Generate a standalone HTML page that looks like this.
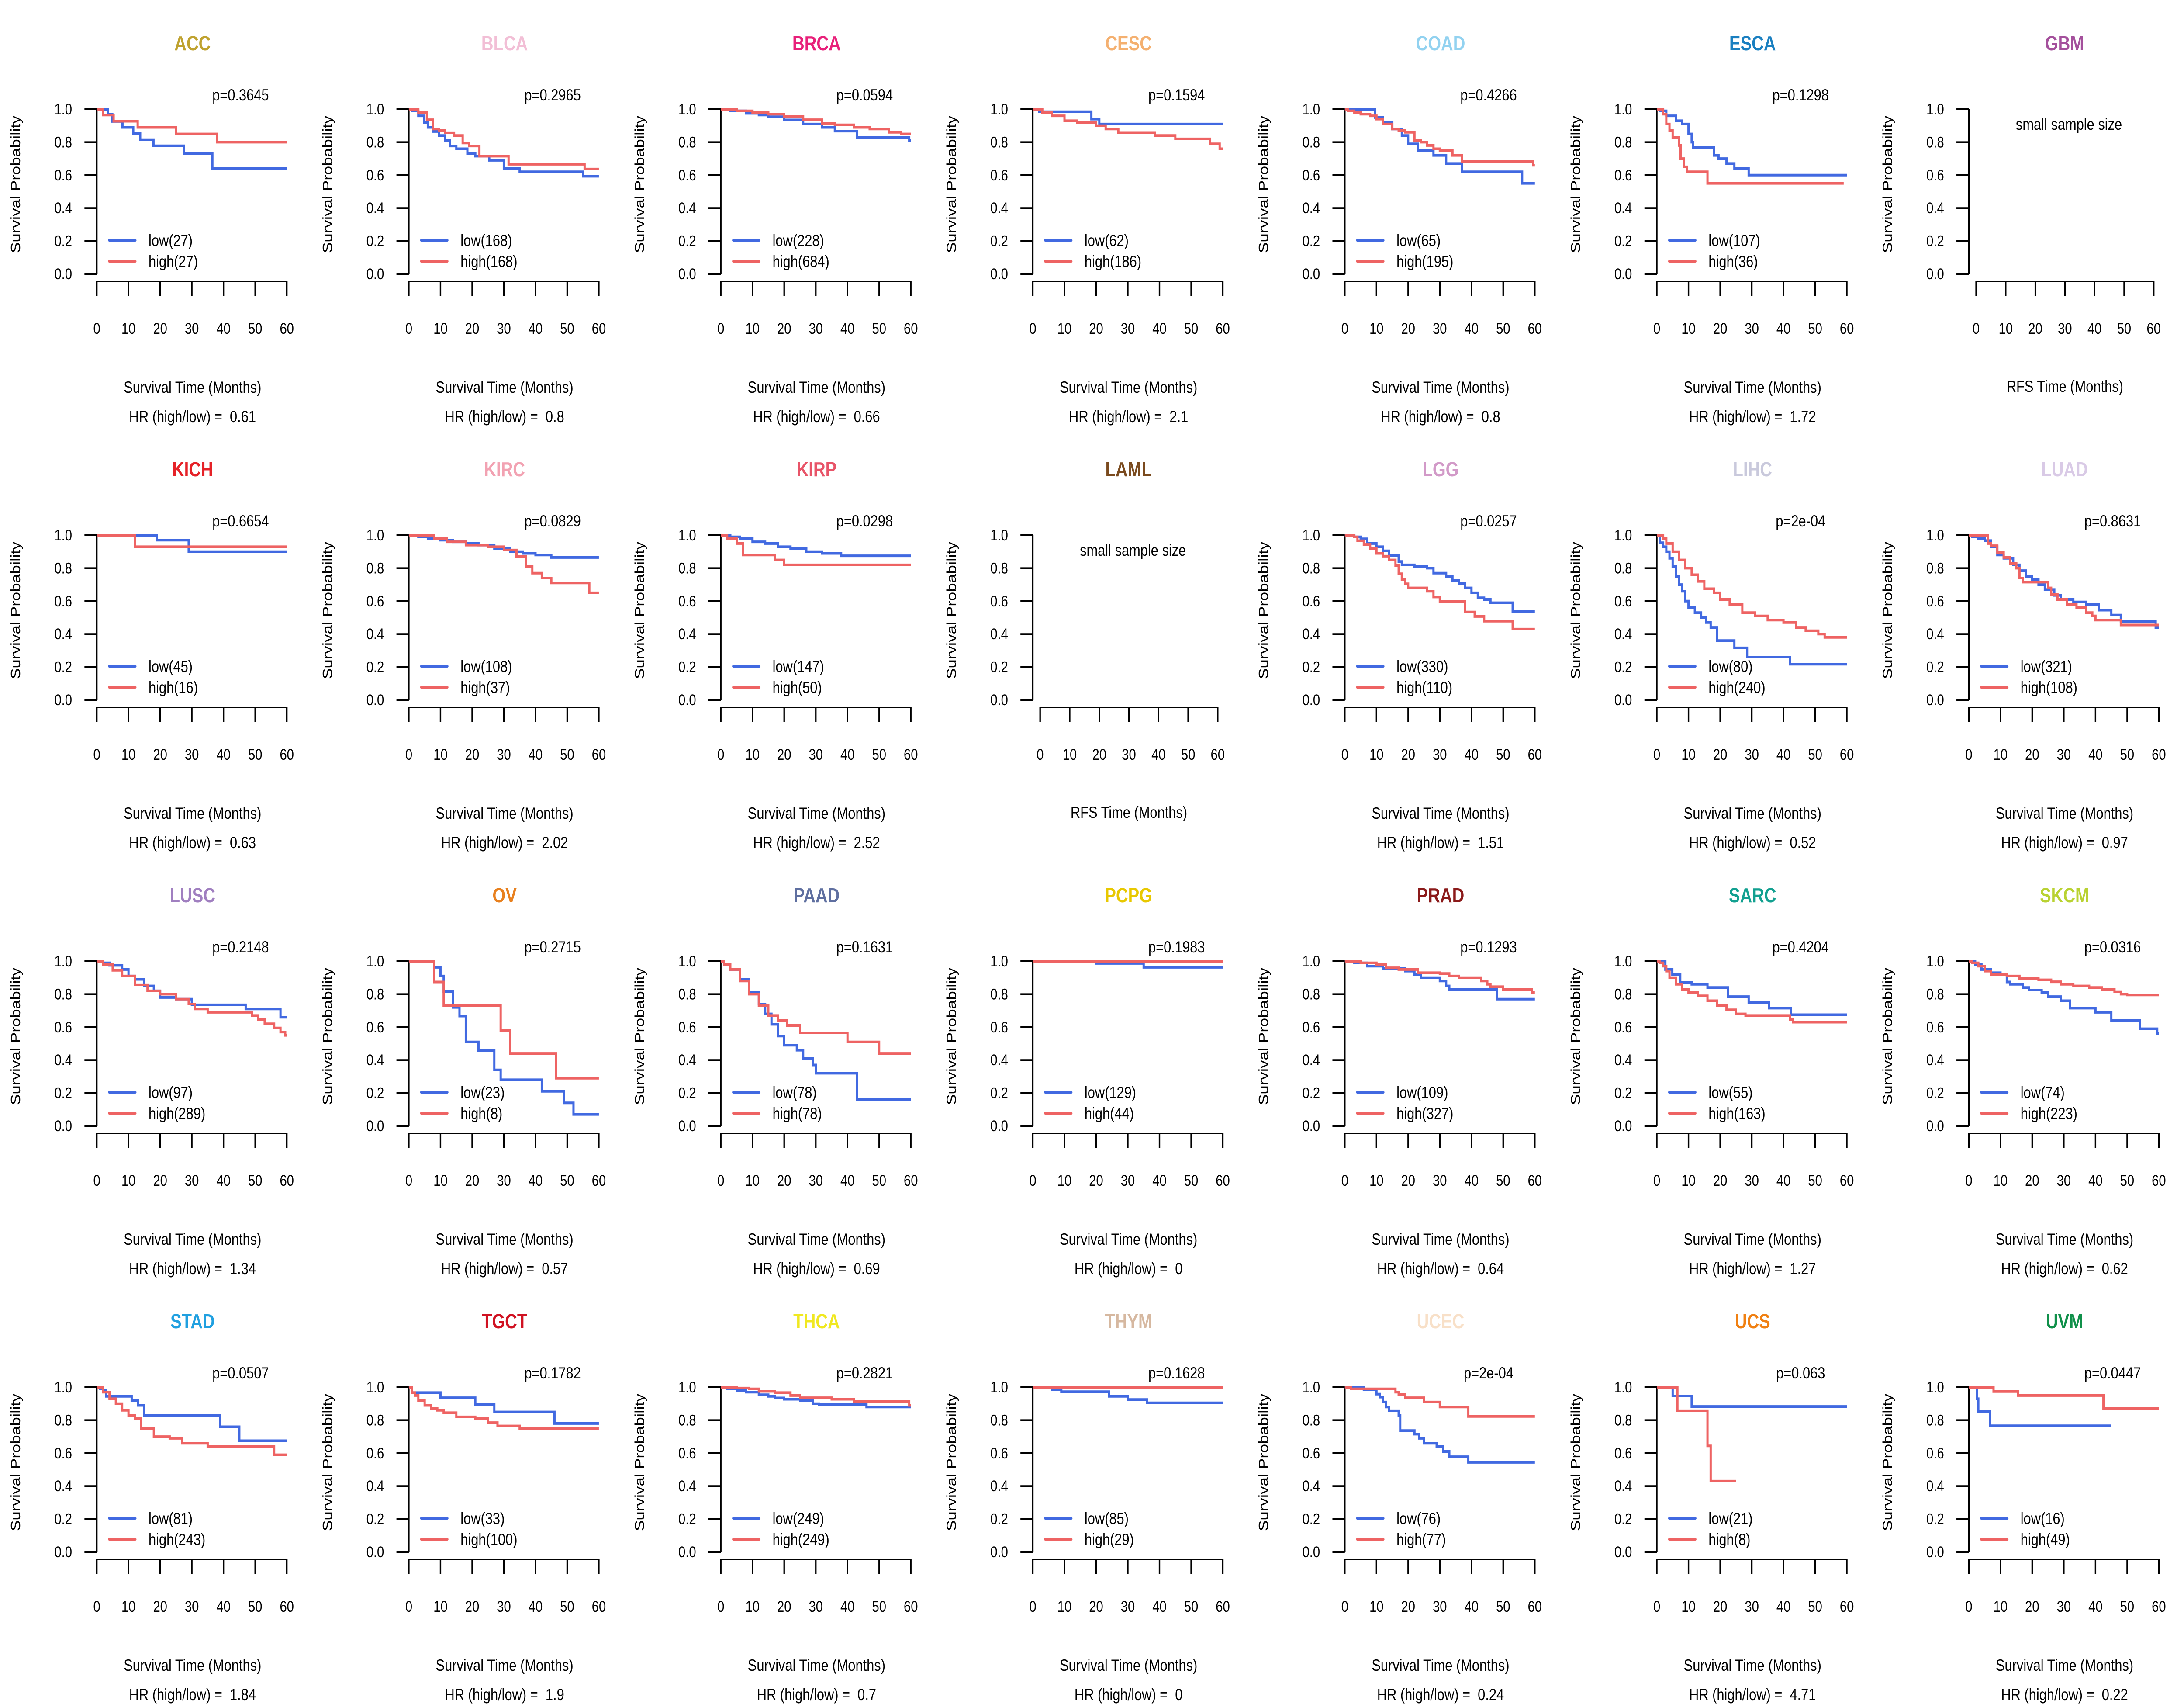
<!DOCTYPE html>
<html><head><meta charset="utf-8"><title>Survival curves</title>
<style>
html,body{margin:0;padding:0;background:#fff;width:100%;height:100%;overflow:hidden;}
svg{display:block;position:absolute;left:0;top:0;width:100vw;height:100vh;font-family:"Liberation Sans",Arial,sans-serif;}
</style></head>
<body>
<svg id="chart" viewBox="0 0 6000 3900" preserveAspectRatio="none" xmlns="http://www.w3.org/2000/svg"></svg>
<script>
const cancers = ["ACC","BLCA","BRCA","CESC","COAD","ESCA","GBM","KICH","KIRC","KIRP","LAML","LGG","LIHC","LUAD","LUSC","OV","PAAD","PCPG","PRAD","SARC","SKCM","STAD","TGCT","THCA","THYM","UCEC","UCS","UVM"];
const titleColors = ["#BFA22F","#F2BFD6","#E8207A","#F4B070","#92D2F0","#1A7FC0","#A4509C","#E52228","#F2A2B2","#E85468","#7A4A1E","#D29AC8","#C9C9DC","#D9CAE6","#A07FC0","#E8801E","#5F6FA0","#E8C800","#8B1A1A","#12A090","#B9D232","#20A0E0","#D01222","#F0E820","#D6B8A0","#F8E0C8","#F08012","#10904A"];
const pValues = ["0.3645","0.2965","0.0594","0.1594","0.4266","0.1298",null,"0.6654","0.0829","0.0298",null,"0.0257","2e-04","0.8631","0.2148","0.2715","0.1631","0.1983","0.1293","0.4204","0.0316","0.0507","0.1782","0.2821","0.1628","2e-04","0.063","0.0447"];
const hrValues = ["0.61","0.8","0.66","2.1","0.8","1.72",null,"0.63","2.02","2.52",null,"1.51","0.52","0.97","1.34","0.57","0.69","0","0.64","1.27","0.62","1.84","1.9","0.7","0","0.24","4.71","0.22"];
const lowN = [27,168,228,62,65,107,null,45,108,147,null,330,80,321,97,23,78,129,109,55,74,81,33,249,85,76,21,16];
const highN = [27,168,684,186,195,36,null,16,37,50,null,110,240,108,289,8,78,44,327,163,223,243,100,249,29,77,8,49];
const lowEnd = [60,60,60,60,60,60,null,60,60,60,null,60,60,60,60,60,60,60,60,60,60,60,60,60,60,60,60,45];
const highEnd = [60,60,60,60,60,59,null,60,60,60,null,60,60,60,60,60,60,60,60,60,60,60,60,60,60,60,25,60];
const lowTimes = [
[3.5,4.9,8.1,11.5,13.7,17.9,27.5,36.5],
[1,3,4.8,6,7.6,9.5,11.5,13,15,18.5,21,25.4,30,35,55],
[3,8,12,15,20,26,32,36,43,59.5],
[2,18.5,21],
[9.5,12,15,18,20,23,28,32,37,56],
[1,3,6,8,10,11,11.5,18,19.5,22,24.5,29],
null,
[19,29],
[3,6,10,14,18,22,27,32,36,40,45],
[3,6,10,14,18,22,27,32,38],
null,
[3,5,7,10,12,14,17,18,22,26,28,32,34,36,38,40,42,44,46,53],
[1,2,3,4,5,6,7,8,9,10,12,14,15.5,17,19,24.5,28.5,42],
[1,3,5,7,9,11,14,16,18,20,22,24,27,29,33,37,41,45,48,59],
[2,4,8,10,12,15,18,20,25,30,47,58],
[8,10,11,14,16,18,22,27,29,42,49,52],
[1,3,6,9,12,14,16,18,20,24,26,29,30,43],
[20,35],
[3,7,12,19,22,24,30,32,33,48],
[2.7,4.9,7.4,11,16,22.5,29,35.4,42.4],
[2,4,7,10,12,13,17,19,23,25,29,32,40,45,54,59.5],
[1,2,3,11,13,15,39,45],
[1,10,21,27,46],
[2,5,8,12,15,17,20,25,29,31,46],
[6,9,24,30,36],
[6,10,11,12,13,14,17,17.5,22,23.5,25,29,31,33,39],
[5,11],
[2.5,3,6.7]
];
const lowSurv = [
[0.97,0.926,0.89,0.854,0.815,0.778,0.73,0.64],
[0.99,0.96,0.92,0.89,0.865,0.84,0.81,0.777,0.76,0.73,0.715,0.69,0.64,0.62,0.593],
[0.99,0.975,0.965,0.954,0.935,0.91,0.89,0.867,0.83,0.81],
[0.985,0.94,0.91],
[0.95,0.92,0.88,0.84,0.79,0.75,0.72,0.67,0.62,0.55],
[0.99,0.96,0.93,0.91,0.85,0.8,0.768,0.72,0.70,0.67,0.64,0.60],
null,
[0.97,0.90],
[0.99,0.98,0.97,0.96,0.95,0.94,0.92,0.9,0.89,0.88,0.865],
[0.99,0.98,0.96,0.95,0.93,0.92,0.90,0.89,0.875],
null,
[0.99,0.978,0.95,0.93,0.905,0.876,0.84,0.82,0.81,0.80,0.77,0.75,0.725,0.707,0.68,0.65,0.62,0.61,0.59,0.537],
[0.954,0.93,0.90,0.86,0.81,0.75,0.70,0.66,0.60,0.56,0.53,0.50,0.47,0.44,0.36,0.316,0.26,0.217],
[0.99,0.98,0.967,0.93,0.88,0.86,0.82,0.785,0.75,0.73,0.70,0.67,0.635,0.61,0.595,0.58,0.545,0.515,0.475,0.44],
[0.99,0.975,0.95,0.91,0.89,0.85,0.82,0.78,0.77,0.735,0.71,0.66],
[0.963,0.91,0.817,0.72,0.667,0.51,0.458,0.34,0.28,0.21,0.14,0.07],
[0.98,0.95,0.89,0.81,0.74,0.68,0.617,0.546,0.49,0.46,0.41,0.37,0.32,0.16],
[0.987,0.963],
[0.99,0.97,0.955,0.94,0.92,0.90,0.88,0.85,0.83,0.77],
[0.95,0.92,0.87,0.86,0.84,0.785,0.75,0.715,0.675],
[0.98,0.95,0.93,0.92,0.874,0.86,0.84,0.825,0.81,0.785,0.76,0.715,0.69,0.64,0.59,0.56],
[0.99,0.98,0.945,0.92,0.89,0.83,0.76,0.675],
[0.967,0.936,0.896,0.85,0.78],
[0.99,0.98,0.97,0.954,0.945,0.935,0.927,0.92,0.9,0.894,0.88],
[0.985,0.973,0.945,0.925,0.905],
[0.985,0.958,0.94,0.91,0.88,0.857,0.83,0.737,0.715,0.69,0.66,0.64,0.61,0.578,0.544],
[0.947,0.883],
[0.93,0.852,0.766]
];
const highTimes = [
[2,5.3,12.9,25,38],
[3,5.7,7.6,9.5,11.5,14.3,17,19,22.3,31.5,55.5],
[5,10,15,20,26,32,36,42,47,53,57],
[3,6,10,14,20,23,27,38.5,45,56,59],
[1,3,5,8,10,12,15,17,19,22,24,26,28,30,34,37,59.5],
[2,3,4,5,7,7.5,8.5,9.5,16],
null,
[12],
[8,12,18,25,30,34,37,39,42,45,57],
[2,5,7,17,20],
null,
[3,4,6,8,10,12,14,16,17,18,19,20,26,28,30,38,41,44,53],
[2,3,5,7,9,11,13,15,18,20,23,27,31,35,40,44,47,51,53],
[6,7,9,11,13,15,16,17,25,26,28,31,34,37,39,40,48],
[2,5,8,12,16,20,25,29,31,35,49,51,53,56,58,59.5],
[8,11,29,32,46.5],
[1,3,6,9,12,15,18,21,25,40,50],
[],
[5,10,13,17,23,30,33,36,43,45,46,50,59],
[1,2,3,4,6,8,10,13,16,19,22,25,28,42,43],
[1,3,5,7,12,16,22,26,29,33,38,42,46,48,50],
[2,4,6,8,10,12,14,18,23,27,35,56],
[1,2,3,5,7,9,11,15,21,25,28,35],
[5,9,12,17,22,25,35,42,59.5],
[],
[2,16,17,19,25,30,39],
[6.5,16,17],
[7.8,15.5,42.5]
];
const highSurv = [
[0.965,0.927,0.89,0.85,0.80],
[0.98,0.936,0.88,0.87,0.857,0.84,0.795,0.777,0.715,0.666,0.637],
[0.99,0.98,0.97,0.955,0.936,0.914,0.905,0.89,0.88,0.86,0.85],
[0.98,0.96,0.93,0.92,0.90,0.88,0.858,0.84,0.82,0.79,0.76],
[0.99,0.98,0.97,0.96,0.94,0.91,0.88,0.87,0.86,0.81,0.80,0.78,0.76,0.75,0.72,0.684,0.66],
[0.97,0.91,0.87,0.83,0.78,0.70,0.65,0.62,0.55],
null,
[0.93],
[0.98,0.96,0.94,0.93,0.91,0.87,0.81,0.77,0.74,0.71,0.65],
[0.98,0.95,0.88,0.85,0.82],
null,
[0.99,0.966,0.944,0.92,0.89,0.873,0.85,0.817,0.766,0.73,0.705,0.68,0.66,0.625,0.597,0.534,0.507,0.478,0.43],
[0.98,0.95,0.9,0.85,0.8,0.76,0.72,0.675,0.65,0.61,0.58,0.53,0.51,0.485,0.47,0.44,0.42,0.40,0.38],
[0.95,0.936,0.896,0.865,0.83,0.80,0.74,0.715,0.68,0.64,0.61,0.58,0.56,0.53,0.51,0.485,0.455],
[0.98,0.945,0.91,0.857,0.82,0.80,0.77,0.74,0.71,0.69,0.67,0.645,0.62,0.595,0.57,0.55],
[0.874,0.73,0.58,0.44,0.29],
[0.98,0.95,0.88,0.80,0.73,0.67,0.64,0.61,0.565,0.51,0.44],
[],
[0.99,0.98,0.96,0.95,0.93,0.925,0.91,0.90,0.88,0.86,0.845,0.83,0.81],
[0.99,0.97,0.94,0.90,0.86,0.83,0.81,0.79,0.76,0.73,0.705,0.68,0.67,0.645,0.63],
[0.99,0.97,0.94,0.92,0.91,0.896,0.887,0.875,0.86,0.85,0.84,0.83,0.815,0.80,0.795],
[0.97,0.93,0.9,0.86,0.83,0.81,0.75,0.70,0.69,0.66,0.64,0.59],
[0.967,0.95,0.92,0.89,0.87,0.86,0.845,0.82,0.81,0.785,0.765,0.75],
[0.995,0.99,0.975,0.967,0.95,0.936,0.927,0.914,0.89],
[],
[0.99,0.97,0.955,0.936,0.91,0.88,0.823],
[0.857,0.644,0.43],
[0.974,0.95,0.87]
];
const xTicks = [0,10,20,30,40,50,60];
const yTicks = ["0.0","0.2","0.4","0.6","0.8","1.0"];

const NS = "http://www.w3.org/2000/svg";
const svg = document.getElementById("chart");
const COLW = 6000/7, ROWH = 975;
function mk(tag, attrs, parent, text){
  const e = document.createElementNS(NS, tag);
  for (const k in attrs) e.setAttribute(k, attrs[k]);
  if (text !== undefined) e.textContent = text;
  parent.appendChild(e);
  return e;
}
cancers.forEach(function(name, i){
  const col = i % 7, row = Math.floor(i / 7);
  const ox = col * COLW, oy = row * ROWH;
  const small = pValues[i] === null;
  const g = mk("g", {transform: "translate(" + ox.toFixed(2) + "," + oy + ")"}, svg);
  
  
  const AX = 266, Y1 = 250, Y0 = 627;
  const xs = small ? {a: 286, b: 774} : {a: 266, b: 788};
  const xScale = function(t){ return xs.a + (xs.b - xs.a) * t / 60; };
  const yScale = function(v){ return Y0 - (Y0 - Y1) * v; };

  const title = mk("text", {x: 529, y: 115, "text-anchor": "middle", "font-size": 46, "font-weight": "bold", fill: titleColors[i]}, g, name);
  
  

  const yl = mk("text", {x: 0, y: 0, transform: "translate(55,422) rotate(-90)", "text-anchor": "middle", "font-size": 37, fill: "#000"}, g, "Survival Probability");
  
  

  const ya = mk("line", {x1: AX, y1: Y1, x2: AX, y2: Y0, stroke: "#000", "stroke-width": 4}, g);
  
  
  yTicks.forEach(function(lab){
    const v = parseFloat(lab), y = yScale(v);
    const tk = mk("line", {x1: 232, y1: y, x2: AX, y2: y, stroke: "#000", "stroke-width": 4}, g);
    
    
    const tl = mk("text", {x: 198, y: y + 12, "text-anchor": "end", "font-size": 35, fill: "#000"}, g, lab);
    
    
  });
  const xa = mk("line", {x1: xs.a, y1: 644, x2: xs.b, y2: 644, stroke: "#000", "stroke-width": 4}, g);
  
  
  xTicks.forEach(function(t){
    const x = xScale(t);
    const tk = mk("line", {x1: x, y1: 644, x2: x, y2: 678, stroke: "#000", "stroke-width": 4}, g);
    
    
    const tl = mk("text", {x: x, y: 764, "text-anchor": "middle", "font-size": 35, fill: "#000"}, g, String(t));
    
    
  });

  if (small) {
    const xl = mk("text", {x: 530, y: 897, "text-anchor": "middle", "font-size": 37, fill: "#000"}, g, "RFS Time (Months)");
    
    
    const ss = mk("text", {x: 541, y: 297, "text-anchor": "middle", "font-size": 37, fill: "#000"}, g, "small sample size");
    
    
    return;
  }
  const xl = mk("text", {x: 529, y: 899, "text-anchor": "middle", "font-size": 37, fill: "#000"}, g, "Survival Time (Months)");
  
  
  const hr = mk("text", {x: 529, y: 966, "text-anchor": "middle", "font-size": 37, fill: "#000", style: "white-space:pre"}, g, "HR (high/low) =  " + hrValues[i]);
  
  
  const pv = mk("text", {x: 661, y: 230, "text-anchor": "middle", "font-size": 37, fill: "#000"}, g, "p=" + pValues[i]);
  
  

  function curve(times, surv, end, color, nm){
    let d = "M" + xScale(0).toFixed(1) + "," + yScale(1).toFixed(1);
    for (let k = 0; k < times.length; k++) {
      d += "H" + xScale(times[k]).toFixed(1) + "V" + yScale(surv[k]).toFixed(1);
    }
    d += "H" + xScale(end).toFixed(1);
    const p = mk("path", {d: d, fill: "none", stroke: color, "stroke-width": 6, "stroke-linejoin": "miter", "stroke-linecap": "butt"}, g);
    
    
  }
  curve(lowTimes[i], lowSurv[i], lowEnd[i], "#4169E1", "low-curve");
  curve(highTimes[i], highSurv[i], highEnd[i], "#EE6363", "high-curve");

  const lg = mk("g", {}, g);
  
  
  [["low", lowN[i], "#4169E1", 550], ["high", highN[i], "#EE6363", 598]].forEach(function(e){
    const ln = mk("line", {x1: 300, y1: e[3], x2: 372, y2: e[3], stroke: e[2], "stroke-width": 6, "stroke-linecap": "round"}, lg);
    
    
    const lt = mk("text", {x: 408, y: e[3] + 13, "font-size": 37, fill: "#000"}, lg, e[0] + "(" + e[1] + ")");
    
    
  });
});
</script>
</body></html>
